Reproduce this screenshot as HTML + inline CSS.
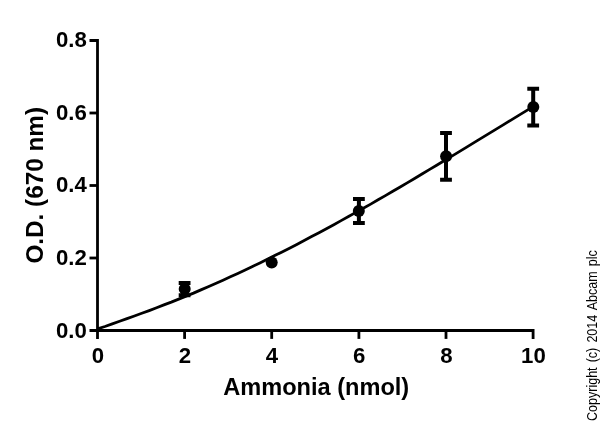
<!DOCTYPE html>
<html lang="en">
<head>
<meta charset="utf-8">
<title>Ammonia standard curve</title>
<style>
html,body{margin:0;padding:0;background:#fff;}
body{width:600px;height:421px;overflow:hidden;}
svg{display:block;}
</style>
</head>
<body>
<svg width="600" height="421" viewBox="0 0 600 421">
<rect width="600" height="421" fill="#fff"/>
<g fill="none" stroke="#000" stroke-width="2.8">
<path d="M89.5,40.5 H97.5 V338.9"/>
<path d="M89.5,330.5 H533.1 V338.9"/>
<path d="M89.5,258.0 H97.5"/>
<path d="M89.5,185.5 H97.5"/>
<path d="M89.5,113.0 H97.5"/>
<path d="M184.6,330.5 V338.9"/>
<path d="M271.7,330.5 V338.9"/>
<path d="M358.9,330.5 V338.9"/>
<path d="M446.0,330.5 V338.9"/>
<path d="M97.5,328.9 L104.9,326.5 L112.3,323.9 L119.6,321.3 L127.0,318.6 L134.4,316.0 L141.8,313.3 L149.2,310.6 L156.6,307.8 L163.9,304.9 L171.3,302.1 L178.7,299.1 L186.1,296.1 L193.5,293.1 L200.9,289.9 L208.2,286.7 L215.6,283.5 L223.0,280.2 L230.4,276.8 L237.8,273.4 L245.2,270.0 L252.5,266.5 L259.9,262.9 L267.3,259.3 L274.7,255.6 L282.1,251.9 L289.5,248.2 L296.8,244.4 L304.2,240.5 L311.6,236.6 L319.0,232.7 L326.4,228.7 L333.8,224.7 L341.1,220.6 L348.5,216.5 L355.9,212.4 L363.3,208.3 L370.7,204.1 L378.1,199.8 L385.4,195.6 L392.8,191.3 L400.2,187.0 L407.6,182.6 L415.0,178.2 L422.4,173.8 L429.7,169.4 L437.1,165.0 L444.5,160.5 L451.9,156.1 L459.3,151.6 L466.7,147.1 L474.0,142.6 L481.4,138.1 L488.8,133.6 L496.2,129.1 L503.6,124.6 L511.0,120.1 L518.3,115.6 L525.7,111.1 L533.1,106.6" stroke-width="2.8" stroke-linejoin="round"/>
</g>
<g fill="none" stroke="#000" stroke-width="4">
<path d="M178.7,282.9 H190.5 M178.7,295.2 H190.5 M184.6,282.9 V295.2"/>
<path d="M353.0,198.9 H364.8 M353.0,223.1 H364.8 M358.9,198.9 V223.1"/>
<path d="M440.1,133.05 H451.9 M440.1,179.8 H451.9 M446.0,133.05 V179.8"/>
<path d="M527.3,88.7 H539.1 M527.3,125.5 H539.1 M533.2,88.7 V125.5"/>
</g>
<g fill="#000">
<circle cx="184.7" cy="289.1" r="6"/>
<circle cx="271.7" cy="262.4" r="6"/>
<circle cx="358.8" cy="211.1" r="6"/>
<circle cx="446.1" cy="156.3" r="6"/>
<circle cx="533.3" cy="107.1" r="6"/>
</g>
<g font-family="'Liberation Sans', sans-serif" font-weight="bold" fill="#000">
<g font-size="22.2px" text-anchor="end">
<text transform="translate(86.8,337.8) scale(1,1.03)">0.0</text>
<text transform="translate(86.8,265.1) scale(1,1.03)">0.2</text>
<text transform="translate(86.8,192.4) scale(1,1.03)">0.4</text>
<text transform="translate(86.8,119.8) scale(1,1.03)">0.6</text>
<text transform="translate(86.8,47.1) scale(1,1.03)">0.8</text>
</g>
<g font-size="22.2px" text-anchor="middle">
<text transform="translate(97.8,363.2) scale(1,1.03)">0</text>
<text transform="translate(184.9,363.2) scale(1,1.03)">2</text>
<text transform="translate(272.0,363.2) scale(1,1.03)">4</text>
<text transform="translate(359.2,363.2) scale(1,1.03)">6</text>
<text transform="translate(446.3,363.2) scale(1,1.03)">8</text>
<text transform="translate(533.4,363.2) scale(1,1.03)">10</text>
</g>
<text transform="translate(316.2,394.5) scale(1,1.03)" font-size="23.6px" text-anchor="middle">Ammonia (nmol)</text>
<text transform="translate(43,185.3) rotate(-90) scale(1.03,1)" font-size="23.6px" text-anchor="middle">O.D. (670 nm)</text>
</g>
<text transform="translate(597,421) rotate(-90) scale(0.876,1)" word-spacing="1.85px" font-family="'Liberation Sans', sans-serif" font-size="14.3px" fill="#000">Copyright (c) 2014 Abcam plc</text>
</svg>
</body>
</html>
